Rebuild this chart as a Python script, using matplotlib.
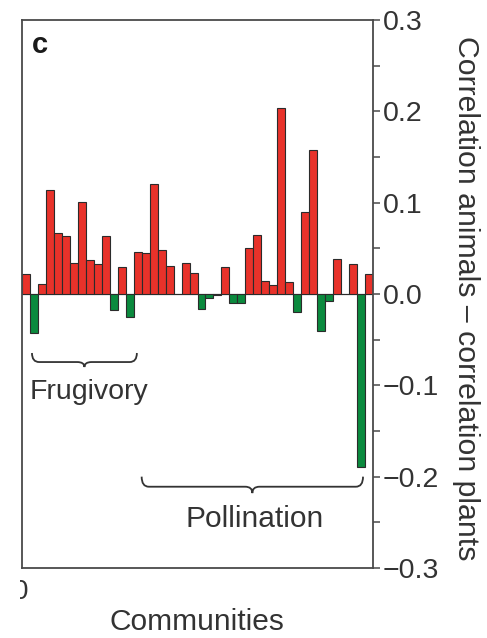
#!/usr/bin/env python3
"""
Разность корреляций животных и растений по сообществам (панель c).
"""

from __future__ import annotations

import matplotlib

matplotlib.use("Agg")

import matplotlib.pyplot as plt
import numpy as np
from matplotlib.patches import PathPatch, Rectangle
from matplotlib.path import Path
from matplotlib.ticker import MultipleLocator


# Значения по сообществам: сначала фругиворные, затем опылительные сети
DIFF = [
    0.022, -0.043, 0.011, 0.114, 0.067, 0.063, 0.034, 0.101, 0.037, 0.033,
    0.063, -0.017, 0.030, -0.025, 0.046, 0.045, 0.120, 0.048, 0.031, 0.0,
    0.034, 0.023, -0.016, -0.004, -0.001, 0.030, -0.010, -0.010, 0.050, 0.065,
    0.014, 0.010, 0.204, 0.013, -0.020, 0.090, 0.158, -0.041, -0.008, 0.038,
    0.0, 0.033, -0.189, 0.022,
]
Y_TICKS = [-0.3, -0.2, -0.1, 0.0, 0.1, 0.2, 0.3]
Y_TICK_LABELS = ["\u22120.3", "\u22120.2", "\u22120.1", "0.0", "0.1", "0.2", "0.3"]

RED = "#E8322A"
GREEN = "#0B8A3E"
EDGE = "#2b2b2b"
SPINE = "#4a4a4a"
TEXT = "#333333"

plt.rcParams["font.family"] = ["Liberation Sans", "DejaVu Sans"]


def brace(ax, x0, x1, y_end, y_line, y_tip, r=0.9):
    """Горизонтальная фигурная скобка, остриём вниз."""
    xc = (x0 + x1) / 2
    verts = [
        (x0, y_end), (x0, y_line), (x0 + r, y_line),
        (xc - r, y_line),
        (xc, y_line), (xc, y_tip),
        (xc, y_tip), (xc, y_line), (xc + r, y_line),
        (x1 - r, y_line),
        (x1, y_line), (x1, y_end),
    ]
    codes = [
        Path.MOVETO, Path.CURVE3, Path.CURVE3,
        Path.LINETO,
        Path.CURVE3, Path.CURVE3,
        Path.MOVETO, Path.CURVE3, Path.CURVE3,
        Path.LINETO,
        Path.CURVE3, Path.CURVE3,
    ]
    ax.add_patch(PathPatch(Path(verts, codes), fill=False, edgecolor=TEXT,
                           lw=1.3, clip_on=False))


def plot_panel_c() -> None:
    fig = plt.figure(figsize=(4.87, 6.38), dpi=100)
    ax = fig.add_axes([22 / 487, 1 - 568 / 638, 351 / 487, 548 / 638])

    values = np.asarray(DIFF)
    x = np.arange(len(values))
    colors = [RED if v > 0 else GREEN for v in values]
    ax.bar(x, values, width=1.0, color=colors, edgecolor=EDGE, linewidth=0.8, zorder=2)
    ax.axhline(0, color=EDGE, lw=0.8, zorder=1)

    ax.set_xlim(-0.5, len(values) - 0.5)
    ax.set_ylim(-0.3, 0.3)
    ax.set_xticks([])

    ax.yaxis.tick_right()
    ax.set_yticks(Y_TICKS, Y_TICK_LABELS)
    ax.yaxis.set_minor_locator(MultipleLocator(0.05))
    ax.tick_params(axis="y", which="both", direction="out", length=5, width=1.1,
                   color=SPINE, labelsize=20.5, labelcolor=TEXT, pad=2)
    for spine in ax.spines.values():
        spine.set_color(SPINE)
        spine.set_linewidth(1.3)

    ax.text(0.028, 0.94, "c", transform=ax.transAxes, fontsize=21,
            fontweight="bold", color="#1a1a1a", va="baseline")

    brace(ax, 0.75, 13.9, -0.0646, -0.0745, -0.080)
    ax.text(7.9, -0.115, "Frugivory", ha="center", va="baseline",
            fontsize=20.5, color=TEXT)
    brace(ax, 14.5, 42.25, -0.200, -0.211, -0.218)
    ax.text(28.6, -0.255, "Pollination", ha="center", va="baseline",
            fontsize=21.5, color=TEXT)

    fig.text(466 / 487, 1 - 298 / 638, "Correlation animals \u2013 correlation plants",
             rotation=270, ha="center", va="center", fontsize=21.8, color=TEXT)
    fig.text(197 / 487, 1 - 630 / 638, "Communities", ha="center", va="baseline",
             fontsize=21.5, color=TEXT)

    # обрезанная подпись нуля слева внизу
    fig.text(20.5 / 487, 1 - 599 / 638, "0", ha="center", va="baseline",
             fontsize=20, color=TEXT, zorder=1)
    fig.add_artist(Rectangle((0, 0), 20 / 487, 0.12, transform=fig.transFigure,
                             facecolor="white", edgecolor="none", zorder=5))

    fig.savefig("out.png", dpi=100)
    plt.close(fig)


def main() -> None:
    plot_panel_c()


if __name__ == "__main__":
    main()
